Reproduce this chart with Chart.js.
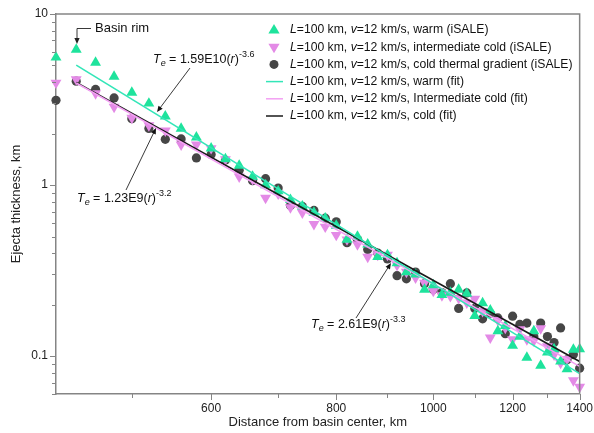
<!DOCTYPE html>
<html>
<head>
<meta charset="utf-8">
<script src="https://cdn.jsdelivr.net/npm/chart.js@4.4.1/dist/chart.umd.min.js"></script>
<style>
    html, body { margin: 0; padding: 0; background: #fff; }
    #wrap { width: 594px; height: 433px; }
</style>
</head>
<body>
<div id="wrap"><canvas id="chart-ejecta"></canvas></div>
<script>
"use strict";

// distance from basin center, km
const distance = [420, 440, 460, 480, 500, 520, 540, 560, 580, 600,
    620, 640, 660, 680, 700, 720, 740, 760, 780, 800,
    820, 840, 860, 880, 900, 920, 940, 960, 980, 1000,
    1020, 1040, 1060, 1080, 1100, 1120, 1140, 1160, 1180, 1200,
    1220, 1240, 1260, 1280, 1300, 1320, 1340, 1360, 1380, 1400];

// ejecta thickness, km (iSALE)
const warm = [5.57, 6.20, 5.20, 4.31, 3.47, 3.00, 2.52, 2.14, 1.90, 1.64,
    1.42, 1.30, 1.12, 1.00, 0.92, 0.82, 0.75, 0.69, 0.64, 0.58,
    0.48, 0.50, 0.45, 0.38, 0.39, 0.35, 0.31, 0.30, 0.245, 0.26,
    0.228, 0.235, 0.245, 0.232, 0.172, 0.204, 0.185, 0.14, 0.15, 0.115,
    0.13, 0.098, 0.14, 0.088, 0.105, 0.11, 0.093, 0.084, 0.109, 0.110];
const intermediate = [3.96, 4.14, 3.43, 2.86, 2.47, 2.23, 2.08, 1.72, 1.72, 1.64,
    1.41, 1.12, 1.08, 0.84, 0.89, 0.74, 0.69, 0.59, 0.57, 0.51,
    0.48, 0.45, 0.38, 0.39, 0.39, 0.34, 0.31, 0.287, 0.268, 0.24,
    0.226, 0.224, 0.218, 0.205, 0.216, 0.183, 0.128, 0.162, 0.146, 0.125,
    0.143, 0.125, 0.123, 0.145, 0.114, 0.102, 0.091, 0.096, 0.072, 0.066];
const cold = [3.13, 4.05, 3.62, 3.23, 2.44, 2.14, 1.85, 1.86, 1.44, 1.51,
    1.40, 1.22, 1.06, 1.09, 0.96, 0.76, 0.75, 0.71, 0.64, 0.61,
    0.46, 0.48, 0.42, 0.40, 0.37, 0.295, 0.283, 0.31, 0.265, 0.245,
    0.235, 0.265, 0.19, 0.234, 0.19, 0.165, 0.178, 0.167, 0.135, 0.171,
    0.153, 0.156, 0.13, 0.156, 0.13, 0.12, 0.146, 0.095, 0.102, 0.085];

// power-law fits (straight on log-log), ends
const fitDistance = [440, 1400];
const warmFit = [5.02, 0.079];
const intermediateFit = [3.95, 0.087];
const coldFit = [3.98, 0.093];

const xTickValues = [500, 600, 700, 800, 900, 1000, 1100, 1200, 1300, 1400];
const xTickLabels = [600, 800, 1000, 1200, 1400];
const yTickLabels = [0.1, 1, 10];

const FONT = '"Liberation Sans", Arial, sans-serif';
const AXIS_COLOR = '#858585';
const GREEN = '#1ee39c';
const GREEN_LINE = '#33e6b8';
const PINK = '#e38ae6';
const PINK_LINE = '#f3a0f3';
const DOT = '#464646';
const BLACK_LINE = '#1a1a1a';

const toPoints = (xs, ys) => xs.map((x, i) => ({ x: x, y: ys[i] }));

function richText(ctx, parts, x, y, size) {
    let cx = x;
    parts.forEach(p => {
        const s = (p.sub || p.sup) ? size * 0.72 : size;
        ctx.font = (p.i ? 'italic ' : '') + s + 'px ' + FONT;
        const dy = p.sub ? size * 0.28 : (p.sup ? -size * 0.42 : 0);
        ctx.fillText(p.t, cx, y + dy);
        cx += ctx.measureText(p.t).width;
    });
}

function arrow(ctx, x1, y1, x2, y2) {
    const a = Math.atan2(y2 - y1, x2 - x1);
    const len = 6, w = 2.6;
    ctx.beginPath();
    ctx.moveTo(x1, y1);
    ctx.lineTo(x2 - Math.cos(a) * len * 0.8, y2 - Math.sin(a) * len * 0.8);
    ctx.stroke();
    ctx.beginPath();
    ctx.moveTo(x2, y2);
    ctx.lineTo(x2 - Math.cos(a) * len + Math.sin(a) * w, y2 - Math.sin(a) * len - Math.cos(a) * w);
    ctx.lineTo(x2 - Math.cos(a) * len - Math.sin(a) * w, y2 - Math.sin(a) * len + Math.cos(a) * w);
    ctx.closePath();
    ctx.fill();
}

const legendRows = [
    { kind: 'tri', color: GREEN, text: 'warm (iSALE)' },
    { kind: 'triDown', color: PINK, text: 'intermediate cold (iSALE)' },
    { kind: 'dot', color: DOT, text: 'cold thermal gradient (iSALE)' },
    { kind: 'line', color: GREEN_LINE, text: 'warm (fit)' },
    { kind: 'line', color: PINK_LINE, text: 'Intermediate cold (fit)' },
    { kind: 'line', color: BLACK_LINE, text: 'cold (fit)' },
];

const framePlugin = {
    id: 'frame',
    afterDraw(chart) {
        const ctx = chart.ctx;
        const area = chart.chartArea;
        ctx.save();
        ctx.strokeStyle = AXIS_COLOR;
        ctx.lineWidth = 1.5;
        ctx.beginPath();
        ctx.moveTo(area.left, area.top);
        ctx.lineTo(area.right, area.top);
        ctx.lineTo(area.right, area.bottom);
        ctx.stroke();

        // tick marks, major longer
        ctx.lineWidth = 1;
        const xs = chart.scales.x;
        xs.ticks.forEach(t => {
            const px = Math.round(xs.getPixelForValue(t.value)) + 0.5;
            const len = xTickLabels.includes(t.value) ? 6 : 4;
            ctx.beginPath();
            ctx.moveTo(px, area.bottom);
            ctx.lineTo(px, area.bottom + len);
            ctx.stroke();
        });
        const ys = chart.scales.y;
        ys.ticks.forEach(t => {
            const py = Math.round(ys.getPixelForValue(t.value)) + 0.5;
            const len = yTickLabels.includes(t.value) ? 6 : 4;
            ctx.beginPath();
            ctx.moveTo(area.left, py);
            ctx.lineTo(area.left - len, py);
            ctx.stroke();
        });

        // legend
        ctx.textBaseline = 'middle';
        legendRows.forEach((row, i) => {
            const y = 30 + i * 17.2;
            const mx = 274;
            ctx.fillStyle = row.color;
            ctx.strokeStyle = row.color;
            if (row.kind === 'tri' || row.kind === 'triDown') {
                const s = row.kind === 'tri' ? 1 : -1;
                ctx.beginPath();
                ctx.moveTo(mx, y - 6 * s);
                ctx.lineTo(mx + 5.6, y + 3.5 * s);
                ctx.lineTo(mx - 5.6, y + 3.5 * s);
                ctx.closePath();
                ctx.fill();
            } else if (row.kind === 'dot') {
                ctx.beginPath();
                ctx.arc(mx, y, 4.5, 0, Math.PI * 2);
                ctx.fill();
            } else {
                ctx.lineWidth = 1.5;
                ctx.beginPath();
                ctx.moveTo(266, y);
                ctx.lineTo(283, y);
                ctx.stroke();
            }
            ctx.fillStyle = '#111';
            richText(ctx, [
                { t: 'L', i: true }, { t: '=100 km, ' },
                { t: 'v', i: true }, { t: '=12 km/s, ' + row.text }
            ], 290, y, 12.2);
        });

        // annotations
        ctx.strokeStyle = '#222';
        ctx.fillStyle = '#222';
        ctx.lineWidth = 0.9;
        ctx.beginPath();
        ctx.moveTo(91, 28.5);
        ctx.lineTo(77, 28.5);
        ctx.stroke();
        arrow(ctx, 77, 28.5, 77, 44);
        ctx.fillStyle = '#111';
        ctx.font = '13px ' + FONT;
        ctx.fillText('Basin rim', 95, 28);

        arrow(ctx, 190, 68, 157, 112);
        arrow(ctx, 126, 190, 156, 128);
        arrow(ctx, 356, 318, 391, 263);

        const eq = (a, b) => [
            { t: 'T', i: true }, { t: 'e', i: true, sub: true }, { t: ' = ' + a + '(' },
            { t: 'r', i: true }, { t: ')' }, { t: b, sup: true }
        ];
        richText(ctx, eq('1.59E10', '-3.6'), 153, 60, 12.5);
        richText(ctx, eq('1.23E9', '-3.2'), 77, 199, 12.5);
        richText(ctx, eq('2.61E9', '-3.3'), 311, 325, 12.5);
        ctx.restore();
    }
};

new Chart(document.getElementById('chart-ejecta').getContext('2d'), {
    type: 'scatter',
    data: {
        datasets: [
            {
                label: 'L=100 km, v=12 km/s, warm (fit)',
                data: toPoints(fitDistance, warmFit),
                showLine: true, borderColor: GREEN_LINE, borderWidth: 1.6, pointRadius: 0,
            },
            {
                label: 'L=100 km, v=12 km/s, Intermediate cold (fit)',
                data: toPoints(fitDistance, intermediateFit),
                showLine: true, borderColor: PINK_LINE, borderWidth: 1.6, pointRadius: 0,
            },
            {
                label: 'L=100 km, v=12 km/s, cold (fit)',
                data: toPoints(fitDistance, coldFit),
                showLine: true, borderColor: BLACK_LINE, borderWidth: 1.6, pointRadius: 0,
            },
            {
                label: 'L=100 km, v=12 km/s, warm (iSALE)',
                data: toPoints(distance, warm),
                pointStyle: 'triangle', pointRadius: 6.3,
                backgroundColor: GREEN, borderColor: GREEN, borderWidth: 0,
            },
            {
                label: 'L=100 km, v=12 km/s, intermediate cold (iSALE)',
                data: toPoints(distance, intermediate),
                pointStyle: 'triangle', rotation: 180, pointRadius: 6.3,
                backgroundColor: PINK, borderColor: PINK, borderWidth: 0,
            },
            {
                label: 'L=100 km, v=12 km/s, cold thermal gradient (iSALE)',
                data: toPoints(distance, cold),
                pointStyle: 'circle', pointRadius: 4.6,
                backgroundColor: DOT, borderColor: DOT, borderWidth: 0,
            },
        ]
    },
    options: {
        responsive: true,
        maintainAspectRatio: false,
        animation: false,
        devicePixelRatio: 1,
        clip: false,
        layout: { padding: { top: 14, right: 12, left: 0, bottom: 0 } },
        plugins: {
            legend: { display: false },
            tooltip: { enabled: false },
        },
        scales: {
            x: {
                type: 'logarithmic',
                min: 420,
                max: 1400,
                afterBuildTicks: (scale) => {
                    scale.ticks = xTickValues.map(v => ({ value: v }));
                },
                afterFit: (scale) => { scale.height = 39; },
                grid: { drawOnChartArea: false, drawTicks: true, tickLength: 6, color: 'rgba(0,0,0,0)' },
                border: { display: true, color: AXIS_COLOR, width: 1.5 },
                ticks: {
                    autoSkip: false, maxRotation: 0, padding: 1,
                    color: '#222', font: { family: FONT, size: 12 },
                    callback: (v) => xTickLabels.includes(v) ? String(v) : '',
                },
                title: {
                    display: true, text: 'Distance from basin center, km',
                    color: '#222', font: { family: FONT, size: 13 }, padding: { top: 0, bottom: 3 },
                },
            },
            y: {
                type: 'logarithmic',
                min: 0.06,
                max: 10,
                afterBuildTicks: (scale) => {
                    const vals = [];
                    [0.01, 0.1, 1].forEach(d => {
                        for (let k = 1; k <= 9; k++) {
                            const v = +(d * k).toPrecision(3);
                            if (v >= 0.06 && v <= 10) vals.push(v);
                        }
                    });
                    vals.push(10);
                    scale.ticks = vals.map(v => ({ value: v }));
                },
                afterFit: (scale) => { scale.width = 56; },
                grid: { drawOnChartArea: false, drawTicks: true, tickLength: 6, color: 'rgba(0,0,0,0)' },
                border: { display: true, color: AXIS_COLOR, width: 1.5 },
                ticks: {
                    autoSkip: false, padding: 2,
                    color: '#222', font: { family: FONT, size: 12 },
                    callback: (v) => yTickLabels.includes(v) ? String(v) : '',
                },
                title: {
                    display: true, text: 'Ejecta thickness, km',
                    color: '#222', font: { family: FONT, size: 13 }, padding: { top: 9, bottom: 0 },
                },
            },
        }
    },
    plugins: [framePlugin]
});
</script>
</body>
</html>
